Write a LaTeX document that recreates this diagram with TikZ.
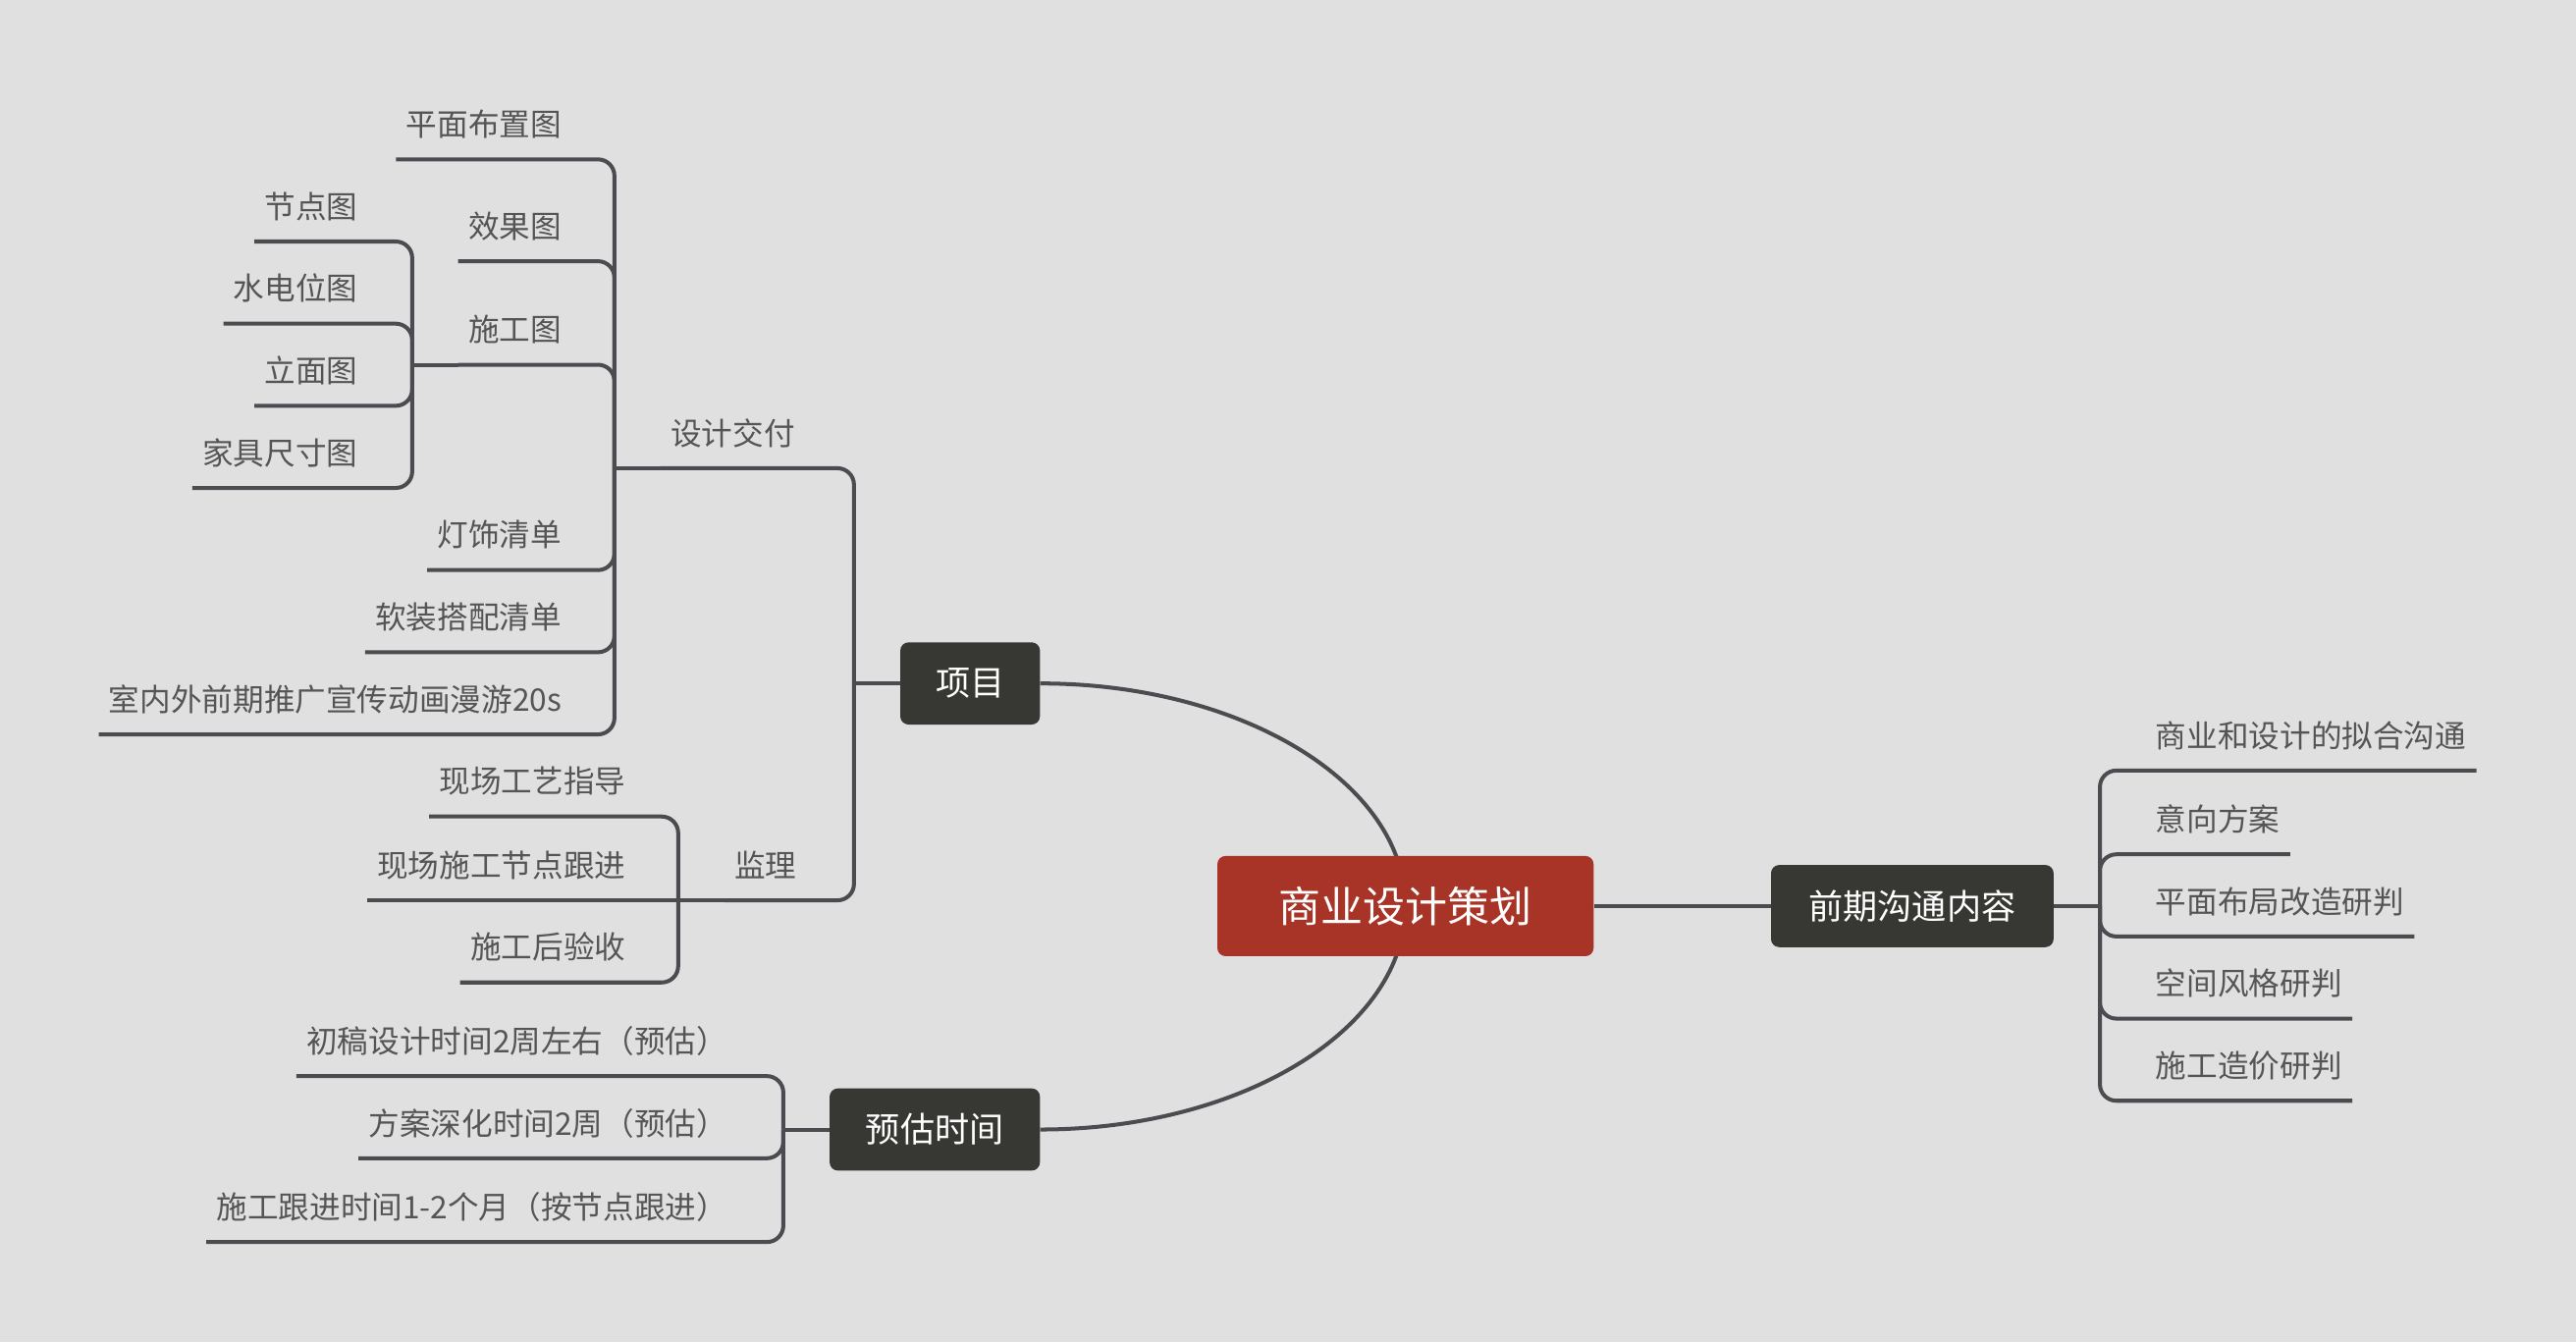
\documentclass[tikz,border=0pt]{standalone}
\usepackage{fontspec}
\setmainfont{Noto Sans CJK SC}

\definecolor{bgc}{RGB}{224,224,224}
\definecolor{redc}{RGB}{167,52,38}
\definecolor{darkc}{RGB}{55,56,51}
\definecolor{linec}{RGB}{75,75,80}
\definecolor{txtc}{RGB}{85,85,85}

\pgfdeclarelayer{bg}
\pgfdeclarelayer{edges}
\pgfsetlayers{bg,edges,main}

\tikzset{
	leaf/.style={anchor=south east, inner xsep=6pt, inner ysep=10pt, text height=14pt, text depth=4pt, text=txtc, font=\fontsize{18.9pt}{22pt}\selectfont},
	rleaf/.style={leaf, anchor=south west},
	topic/.style={fill=darkc, rounded corners=5pt, text=white, inner sep=0pt, minimum height=50pt, font=\fontsize{21pt}{25pt}\selectfont},
	root/.style={topic, fill=redc, minimum width=229pt, minimum height=61pt, font=\fontsize{25.7pt}{30pt}\selectfont},
	link/.style={draw=linec, line width=2.4pt, rounded corners=10pt},
}

\begin{document}
\begin{tikzpicture}[x=1pt,y=-1pt]

	% background
	\begin{pgfonlayer}{bg}
		\fill[bgc] (0,0) rectangle (1568,817);
	\end{pgfonlayer}
	\useasboundingbox (0,0) rectangle (1568,817);

	% main topics
	\node[root] (root) at (855.5,551.5) {商业设计策划};
	\node[topic, minimum width=85pt] (xm) at (590.5,416) {项目};
	\node[topic, minimum width=172pt] (qq) at (1164,551.5) {前期沟通内容};
	\node[topic, minimum width=128pt] (ygsj) at (569,687.5) {预估时间};

	% 项目
	\node[leaf] (sjjf) at (490,285) {设计交付};
	\node[leaf] (pmbz) at (348,97) {平面布置图};
	\node[leaf] (xgt) at (348,159) {效果图};
	\node[leaf] (sgt) at (348,222) {施工图};
	\node[leaf] (jdt) at (224,147) {节点图};
	\node[leaf] (sdwt) at (224,197) {水电位图};
	\node[leaf] (lmt) at (224,247) {立面图};
	\node[leaf] (jjcc) at (224,297) {家具尺寸图};
	\node[leaf] (dsqd) at (348,347) {灯饰清单};
	\node[leaf] (rzdp) at (348,397) {软装搭配清单};
	\node[leaf] (snw) at (348,447) {室内外前期推广宣传动画漫游20s};
	\node[leaf] (jl) at (491,548) {监理};
	\node[leaf] (xcgy) at (387,497) {现场工艺指导};
	\node[leaf] (xcsg) at (387,548) {现场施工节点跟进};
	\node[leaf] (sghy) at (387,598) {施工后验收};

	% 预估时间
	\node[leaf] (cgsj) at (449,655) {初稿设计时间2周左右（预估）};
	\node[leaf] (faxh) at (449,705) {方案深化时间2周（预估）};
	\node[leaf] (sggj) at (449,756) {施工跟进时间1-2个月（按节点跟进）};

	% 前期沟通内容
	\node[rleaf] (syhs) at (1306,469) {商业和设计的拟合沟通};
	\node[rleaf] (yxfa) at (1306,520) {意向方案};
	\node[rleaf] (pmbj) at (1306,570) {平面布局改造研判};
	\node[rleaf] (kjfg) at (1306,620) {空间风格研判};
	\node[rleaf] (sgzj) at (1306,670) {施工造价研判};

	\begin{pgfonlayer}{edges}
		% curves from the root
		\draw[link] (xm.east) .. controls +(122.6,0) and +(0,-74.8) .. (root.center);
		\draw[link] (ygsj.east) .. controls +(122.6,0) and +(0,74.8) .. (root.center);
		\draw[link] (root.east) -- (qq.west);

		% stubs
		\draw[link] (xm.west) -- ++(-28,0) coordinate (xm-j);
		\draw[link] (sjjf.south west) -- ++(-28,0) coordinate (sjjf-j);
		\draw[link] (sgt.south west) -- ++(-28,0) coordinate (sgt-j);
		\draw[link] (jl.south west) -- ++(-28,0) coordinate (jl-j);
		\draw[link] (ygsj.west) -- ++(-28,0) coordinate (ygsj-j);
		\draw[link] (qq.east) -- ++(28,0) coordinate (qq-j);

		% branches
		\foreach \c in {sjjf,jl}
			\draw[link] (xm-j) |- (\c.south east) -- (\c.south west);
		\foreach \c in {pmbz,xgt,sgt,dsqd,rzdp,snw}
			\draw[link] (sjjf-j) |- (\c.south east) -- (\c.south west);
		\foreach \c in {jdt,sdwt,lmt,jjcc}
			\draw[link] (sgt-j) |- (\c.south east) -- (\c.south west);
		\foreach \c in {xcgy,sghy}
			\draw[link] (jl-j) |- (\c.south east) -- (\c.south west);
		\draw[link] (jl-j) -- (xcsg.south west);
		\foreach \c in {cgsj,faxh,sggj}
			\draw[link] (ygsj-j) |- (\c.south east) -- (\c.south west);
		\foreach \c in {syhs,yxfa,pmbj,kjfg,sgzj}
			\draw[link] (qq-j) |- (\c.south west) -- (\c.south east);
	\end{pgfonlayer}

\end{tikzpicture}
\end{document}
